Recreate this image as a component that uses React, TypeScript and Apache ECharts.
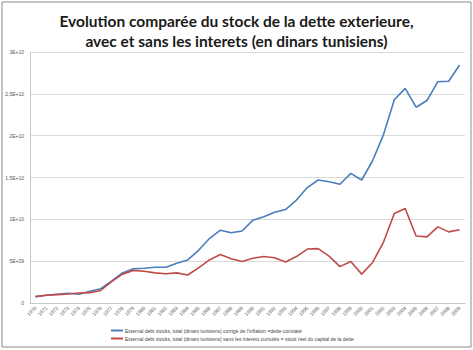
import React, { useEffect, useRef } from "react";
import * as echarts from "echarts";

const years = [
  "1970","1971","1972","1973","1974","1975","1976","1977","1978","1979",
  "1980","1981","1982","1983","1984","1985","1986","1987","1988","1989",
  "1990","1991","1992","1993","1994","1995","1996","1997","1998","1999",
  "2000","2001","2002","2003","2004","2005","2006","2007","2008","2009",
];

// billions of dinars
const avecInterets = [
  0.76, 0.92, 1.04, 1.16, 1.05, 1.4, 1.7, 2.6, 3.6, 4.1,
  4.15, 4.27, 4.27, 4.75, 5.15, 6.3, 7.7, 8.7, 8.4, 8.6,
  9.9, 10.3, 10.85, 11.17, 12.3, 13.8, 14.7, 14.5, 14.2, 15.5,
  14.7, 17.0, 20.1, 24.3, 25.65, 23.4, 24.2, 26.45, 26.5, 28.45,
];

const sansInterets = [
  0.76, 0.92, 1.0, 1.08, 1.2, 1.24, 1.5, 2.55, 3.45, 3.9,
  3.8, 3.6, 3.5, 3.6, 3.35, 4.2, 5.15, 5.8, 5.3, 4.95,
  5.35, 5.55, 5.4, 4.9, 5.55, 6.45, 6.5, 5.6, 4.35, 4.95,
  3.45, 4.85, 7.25, 10.7, 11.3, 8.0, 7.9, 9.1, 8.5, 8.75,
];

const yTickLabels: Record<number, string> = {
  0: "0",
  5e9: "5E+09",
  1e10: "1E+10",
  1.5e10: "1,5E+10",
  2e10: "2E+10",
  2.5e10: "2,5E+10",
  3e10: "3E+10",
};

const nameBlue =
  "External debt stocks, total (dinars tunisiens) corrigé de l'inflation =dette constaté";
const nameRed =
  "External debt stocks, total (dinars tunisiens) sans les interets cumulés = stock réel du capital de la dette";

export default function App() {
  const ref = useRef<HTMLDivElement>(null);
  useEffect(() => {
    if (!ref.current) return;
    const chart = echarts.init(ref.current, undefined, { renderer: "svg" });
    chart.setOption({
      animation: false,
      backgroundColor: "#ffffff",
      title: {
        text: "Evolution comparée du stock de la dette exterieure,\navec et sans les interets (en dinars tunisiens)",
        left: "center",
        top: 6,
        textStyle: {
          fontFamily: "Lato",
          fontWeight: "bold",
          fontSize: 15.5,
          lineHeight: 20,
          color: "#1a1a1a",
        },
      },
      graphic: [
        {
          type: "rect",
          shape: { x: 2, y: 2, width: 469, height: 345 },
          style: { fill: "none", stroke: "#8a8a8a", lineWidth: 1 },
          silent: true,
        },
      ],
      legend: {
        orient: "vertical",
        left: 106,
        top: 323,
        itemGap: 3,
        itemWidth: 12,
        itemHeight: 2,
        icon: "rect",
        textStyle: { fontSize: 5, color: "#444", fontFamily: "Liberation Sans", padding: [0, 0, 0, -3] },
        data: [nameBlue, nameRed],
      },
      grid: { left: 30, right: 8, top: 52, bottom: 47 },
      xAxis: {
        type: "category",
        data: years,
        boundaryGap: true,
        axisLine: { lineStyle: { color: "#c8c8c8" } },
        axisTick: { lineStyle: { color: "#c8c8c8" }, length: 3, alignWithLabel: false },
        axisLabel: {
          rotate: 45,
          fontSize: 5,
          color: "#555",
          interval: 0,
          margin: 4,
        },
      },
      yAxis: {
        type: "value",
        min: 0,
        max: 3e10,
        interval: 5e9,
        axisLine: { show: true, lineStyle: { color: "#c8c8c8" } },
        axisTick: { show: false },
        splitLine: { lineStyle: { color: "#d9d9d9" } },
        axisLabel: {
          fontSize: 5,
          color: "#555",
          margin: 6,
          formatter: (v: number) => yTickLabels[v] ?? "",
        },
      },
      series: [
        {
          name: nameBlue,
          type: "line",
          data: avecInterets.map((v) => v * 1e9),
          symbol: "none",
          lineStyle: { color: "#4a7ebb", width: 1.6 },
          itemStyle: { color: "#4a7ebb" },
        },
        {
          name: nameRed,
          type: "line",
          data: sansInterets.map((v) => v * 1e9),
          symbol: "none",
          lineStyle: { color: "#be4b48", width: 1.6 },
          itemStyle: { color: "#be4b48" },
        },
      ],
    });
    return () => chart.dispose();
  }, []);
  return (
    <div
      ref={ref}
      style={{ position: "absolute", left: 0, top: 0, width: 473, height: 350 }}
    />
  );
}
